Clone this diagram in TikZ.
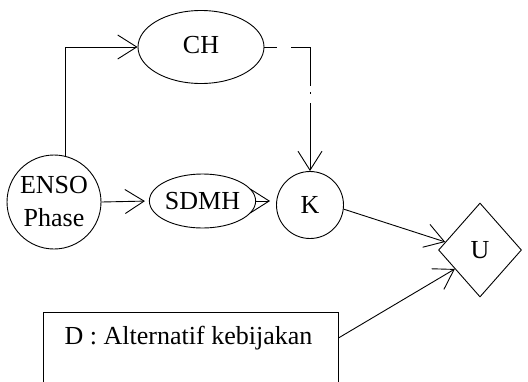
\documentclass[tikz,border=0pt]{standalone}
\usepackage{fontspec}
\setmainfont{Liberation Serif}
\usetikzlibrary{arrows.meta,shapes.geometric,calc}
\begin{document}
\begin{tikzpicture}[x=1pt,y=-1pt,
  font=\fontsize{26}{33}\selectfont,
  line width=0.9pt,
  every node/.style={inner sep=0pt},
  barb/.style={-{Straight Barb[length=19pt,width=24pt]}},
  oval/.style={draw,ellipse},
  circ/.style={draw,circle},
]
\useasboundingbox (0,0) rectangle (528,381);
\node[oval,minimum width=126pt,minimum height=73pt] (CH) at (201,47) {\raisebox{5pt}{CH}};
\node[circ,minimum size=94pt,align=center] (ENSO) at (54,202) {ENSO\\Phase};
\node[oval,minimum width=99pt,minimum height=54pt] (SDMH) at (202.5,201) {SDMH};
\node[circ,minimum size=67pt] (K) at (310,205) {K};
\node[draw,diamond,aspect=0.883,minimum width=83pt,minimum height=94pt] (U) at (480,250) {\raisebox{-6pt}{U}};
\node[draw,rectangle,minimum width=295pt,minimum height=76pt] (D) at (190.5,350) {};
\node (Dtext) at (188.5,338) {D : Alternatif kebijakan};

\draw[barb] (ENSO.76.5) |- (CH.west);
\draw[barb,dash pattern=on 13pt off 14pt on 58pt off 6pt on 2pt off 9pt on 300pt off 1pt] (CH.east) -| (K.north);
\draw[barb,shorten >=4pt] (ENSO.east) -- (SDMH.west);
\draw[barb,shorten >=6pt] (SDMH.east) -- (SDMH.east -| K.west);
\draw[barb] (K.-7) -- ($(U.west)!0.17!(U.north)$);
\draw[barb] (Dtext -| D.east) -- ($(U.west)!0.4!(U.south)$);
\end{tikzpicture}
\end{document}
